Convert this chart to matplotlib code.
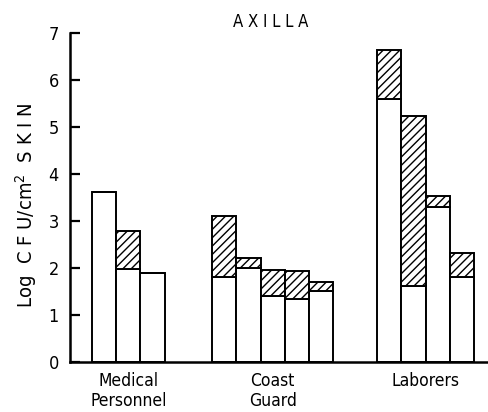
import matplotlib.pyplot as plt
import numpy as np

plt.rcParams['font.family'] = ['DejaVu Sans']
plt.rcParams['font.stretch'] = 'condensed'
plt.rcParams['hatch.linewidth'] = 1.0

groups = ['Medical\nPersonnel', 'Coast\nGuard', 'Laborers']
# lower (white) part and total height (top of hatched part) of each bar
low = [[3.62, 1.98, 1.90],
       [1.81, 2.00, 1.41, 1.34, 1.52],
       [5.60, 1.62, 3.30, 1.81]]
top = [[3.62, 2.79, 1.90],
       [3.11, 2.21, 1.96, 1.94, 1.71],
       [6.64, 5.24, 3.53, 2.32]]
yticks = [0, 1, 2, 3, 4, 5, 6, 7]

fig = plt.figure(figsize=(4.89, 4.12), dpi=100)
ax = fig.add_axes([0.143, 0.121, 0.855, 0.799])

starts = [0.9, 5.84, 12.63]
for g in range(len(groups)):
    x = starts[g] + np.arange(len(low[g])) + 0.5
    lo = np.array(low[g])
    hi = np.array(top[g])
    ax.bar(x, lo, width=1.0, color='white', edgecolor='black', linewidth=1.4)
    ax.bar(x, hi - lo, bottom=lo, width=1.0, color='white', edgecolor='black',
           linewidth=1.4, hatch='////')
    ax.text(starts[g] + len(low[g]) / 2, -0.2, groups[g], ha='center', va='top',
            fontsize=12.5, linespacing=1.2)

ax.set_xlim(0, 17.2)
ax.set_ylim(0, 7)
ax.set_yticks(yticks)
ax.set_yticklabels([str(t) for t in yticks], fontsize=13)
ax.tick_params(axis='y', direction='in', length=7, width=1.6, pad=8)
ax.set_xticks([])
ax.spines['top'].set_visible(False)
ax.spines['right'].set_visible(False)
ax.spines['left'].set_linewidth(1.8)
ax.spines['bottom'].set_linewidth(1.8)

ax.set_ylabel('Log  C F U/cm$^2$  S K I N', fontsize=14.5)
ax.yaxis.set_label_coords(-0.075, 0.477)
fig.text(0.553, 0.947, 'A X I L L A', ha='center', va='center', fontsize=12)

fig.savefig('out.png', dpi=100)
